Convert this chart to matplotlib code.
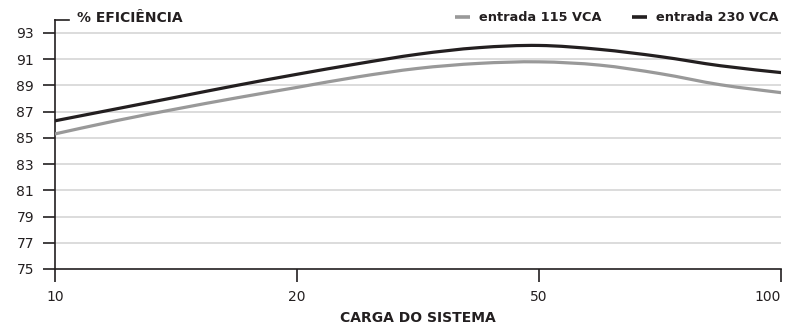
import numpy as np
import matplotlib
matplotlib.use('Agg')
import matplotlib.pyplot as plt
import matplotlib.transforms as mtransforms
from matplotlib.path import Path
from matplotlib.patches import PathPatch

# dados (posições em quartos de categoria)
cargas = ['10', '20', '50', '100']
pos = np.arange(0, 3.01, 0.25)
ef_115 = [85.3, 86.3, 87.2, 88.05, 88.85, 89.65, 90.3, 90.68, 90.8, 90.55, 89.9, 89.05, 88.45]
ef_230 = [86.3, 87.2, 88.1, 89.0, 89.85, 90.65, 91.38, 91.88, 92.05, 91.75, 91.2, 90.5, 89.98]
y_ticks = [75, 77, 79, 81, 83, 85, 87, 89, 91, 93]

escuro = '#231f20'
cinza = '#999999'

plt.rcParams['font.family'] = ['DejaVu Sans']


def curva_suave(x, y):
    # caminho bezier (catmull-rom) passando pelos pontos lidos
    pts = np.column_stack([np.asarray(x, float), np.asarray(y, float)])
    verts = [pts[0]]
    codes = [Path.MOVETO]
    for i in range(len(pts) - 1):
        p0 = pts[max(i - 1, 0)]
        p1 = pts[i]
        p2 = pts[i + 1]
        p3 = pts[min(i + 2, len(pts) - 1)]
        verts += [p1 + (p2 - p0) / 6, p2 - (p3 - p1) / 6, p2]
        codes += [Path.CURVE4] * 3
    return Path(verts, codes)


fig = plt.figure(figsize=(7.85, 3.26), dpi=100)
ax = fig.add_axes([0.070, 0.175, 0.925, 0.764])

for y in y_ticks[1:]:
    ax.axhline(y, color='#d9d9d9', lw=1.3, zorder=0)

for serie, cor, nome in [(ef_115, cinza, 'entrada 115 VCA'), (ef_230, escuro, 'entrada 230 VCA')]:
    ax.add_patch(PathPatch(curva_suave(pos, serie), facecolor='none', edgecolor=cor,
                           lw=2.3, capstyle='butt', zorder=3))
    ax.plot([], [], color=cor, lw=2.6, solid_capstyle='butt', label=nome)

ax.set_xlim(0, 3)
ax.set_ylim(75, 94)
ax.set_xticks(range(len(cargas)))
ax.set_xticklabels(cargas)
ax.get_xticklabels()[-1].set_ha('right')
ax.set_yticks(y_ticks)

for s in ['top', 'right']:
    ax.spines[s].set_visible(False)
for s in ['left', 'bottom']:
    ax.spines[s].set_color(escuro)
    ax.spines[s].set_linewidth(1.2)

ax.tick_params(axis='both', length=9, width=1.2, color=escuro, pad=6,
               labelsize=10, labelcolor=escuro)

# pequeno traço no topo do eixo y
trans = mtransforms.blended_transform_factory(ax.transAxes, ax.transData)
ax.plot([0, 0.02], [94, 94], color=escuro, lw=1.2, transform=trans, clip_on=False)
ax.text(0.031, 94.18, '% EFICIÊNCIA', transform=trans, fontsize=10, fontweight='bold',
        color=escuro, va='center', ha='left')

ax.set_xlabel('CARGA DO SISTEMA', fontsize=10, fontweight='bold', color=escuro, labelpad=5)

leg = ax.legend(loc='center right', bbox_to_anchor=(0.996, 94.18), bbox_transform=trans,
                ncol=2, frameon=False, handlelength=1.16, handletextpad=0.7,
                columnspacing=2.3, prop={'weight': 'bold', 'size': 9.3},
                borderaxespad=0, borderpad=0)
for t in leg.get_texts():
    t.set_color(escuro)

fig.savefig('out.png', dpi=100)
